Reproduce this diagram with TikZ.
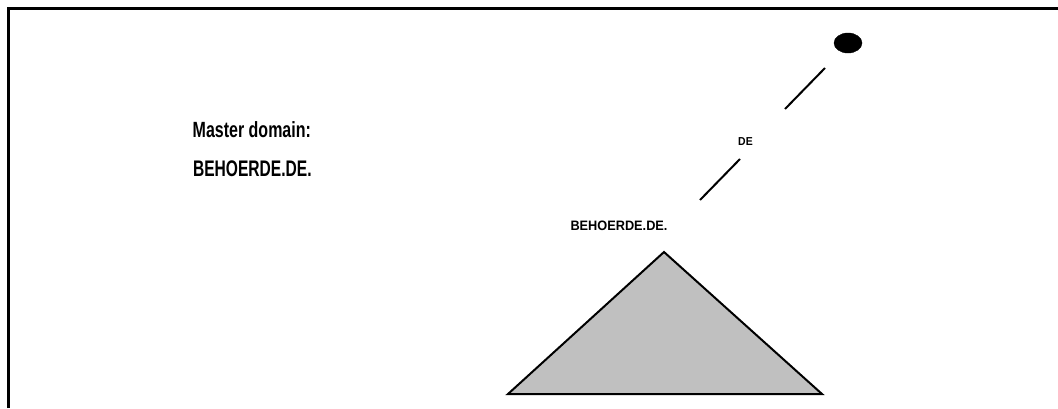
\documentclass[tikz,border=0pt]{standalone}
\usepackage{fontspec}
\setmainfont{Liberation Sans}
\usetikzlibrary{shapes.geometric}
\begin{document}
\begin{tikzpicture}[x=1pt,y=-1pt,
  lbl/.style={inner sep=0pt,outer sep=0pt},
  seg/.style={line width=2pt},
  frameline/.style={line width=3pt}]
\useasboundingbox (0,0) rectangle (1058,408);
% frame (top and left edges)
\draw[frameline] (8,408) -- (8,8) -- (1058,8);
% root ellipse
\node[draw,fill=black,ellipse,minimum width=28pt,minimum height=20pt,inner sep=0pt] (root) at (848,43) {};
% labels left
\node[lbl,anchor=base west] (master) at (192.7,137.7) {\scalebox{0.8}[1.1]{\fontsize{20}{20}\selectfont\bfseries Master domain:}};
\node[lbl,anchor=base west] (masterdom) at (193,176.7) {\scalebox{0.76}[1.1]{\fontsize{20.5}{20.5}\selectfont\bfseries BEHOERDE.DE.}};
% tree labels
\node[lbl,anchor=base] (de) at (745.5,145) {\scalebox{0.95}[1.05]{\fontsize{11}{11}\selectfont\bfseries DE}};
\node[lbl,anchor=base] (beh) at (619,230.7) {\scalebox{0.98}[1.05]{\fontsize{13}{13}\selectfont\bfseries BEHOERDE.DE.}};
% connector segments
\coordinate (a1) at (825,68);
\coordinate (a2) at (785,109);
\coordinate (b1) at (740,159);
\coordinate (b2) at (700,200);
\draw[seg] (a1) -- (a2);
\draw[seg] (b1) -- (b2);
% zone triangle
\coordinate (apex) at (664,252);
\coordinate (bl) at (508,394);
\coordinate (br) at (822,394);
\draw[line width=2pt,fill={rgb,255:red,192;green,192;blue,192},line join=miter] (apex) -- (br) -- (bl) -- cycle;
\end{tikzpicture}
\end{document}
